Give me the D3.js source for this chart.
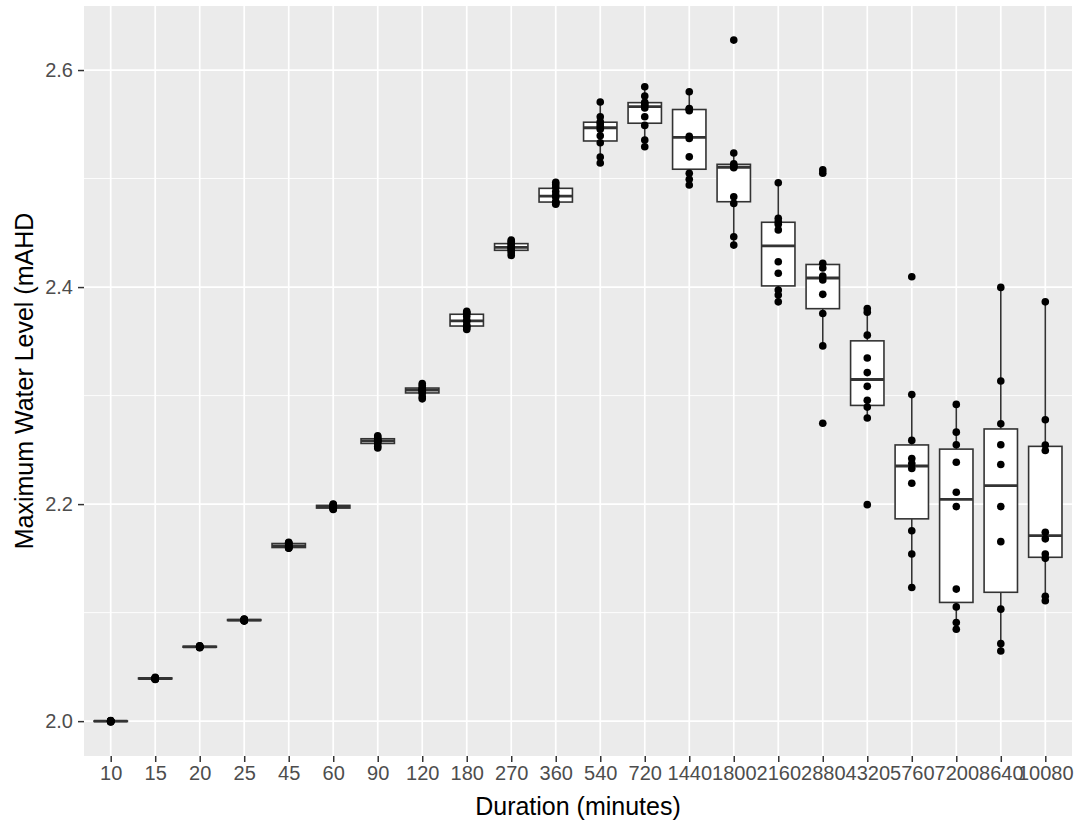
<!DOCTYPE html>
<html>
<head>
<meta charset="utf-8">
<script src="https://cdn.jsdelivr.net/npm/d3@7"></script>
<style>
    body { margin: 0; background: #fff; }
    text { font-family: "Liberation Sans", Arial, sans-serif; }
</style>
</head>
<body>
<svg id="chart" width="1078" height="824"></svg>
<script>
// durations on the x axis (minutes)
const durations = ["10", "15", "20", "25", "45", "60", "90", "120", "180", "270", "360",
    "540", "720", "1440", "1800", "2160", "2880", "4320", "5760", "7200", "8640", "10080"];

// max water level (mAHD) for each duration, one value per run
const lvl10 = [1.9993, 1.9995, 1.9997, 1.9998, 2.0000, 2.0000, 2.0001, 2.0002, 2.0004, 2.0006];
const lvl15 = [2.0384, 2.0387, 2.0389, 2.0391, 2.0392, 2.0394, 2.0396, 2.0398, 2.0400, 2.0403];
const lvl20 = [2.0676, 2.0679, 2.0681, 2.0683, 2.0684, 2.0686, 2.0688, 2.0690, 2.0692, 2.0695];
const lvl25 = [2.0922, 2.0925, 2.0927, 2.0929, 2.0930, 2.0932, 2.0934, 2.0936, 2.0938, 2.0941];
const lvl45 = [2.1594, 2.1596, 2.1598, 2.1606, 2.1612, 2.1616, 2.1628, 2.1640, 2.1644, 2.1648];
const lvl60 = [2.1950, 2.1955, 2.1962, 2.1968, 2.1972, 2.1978, 2.1984, 2.1990, 2.1995, 2.2000];
const lvl90 = [2.2518, 2.2530, 2.2555, 2.2572, 2.2580, 2.2586, 2.2594, 2.2605, 2.2618, 2.2630];
const lvl120 = [2.2970, 2.2990, 2.3020, 2.3038, 2.3046, 2.3054, 2.3062, 2.3072, 2.3092, 2.3112];
const lvl180 = [2.3610, 2.3625, 2.3638, 2.3650, 2.3684, 2.3694, 2.3730, 2.3756, 2.3765, 2.3776];
const lvl270 = [2.4292, 2.4315, 2.4335, 2.4350, 2.4362, 2.4370, 2.4390, 2.4404, 2.4420, 2.4433];
const lvl360 = [2.4763, 2.4775, 2.4782, 2.4788, 2.4830, 2.4848, 2.4880, 2.4920, 2.4945, 2.4965];
const lvl540 = [2.5143, 2.5198, 2.5330, 2.5395, 2.5455, 2.5481, 2.5505, 2.5524, 2.5570, 2.5705];
const lvl720 = [2.5293, 2.5355, 2.5490, 2.5570, 2.5650, 2.5674, 2.5690, 2.5703, 2.5760, 2.5846];
const lvl1440 = [2.4940, 2.4993, 2.5048, 2.5200, 2.5370, 2.5390, 2.5625, 2.5640, 2.5645, 2.5800];
const lvl1800 = [2.4387, 2.4464, 2.4771, 2.4833, 2.5100, 2.5108, 2.5120, 2.5135, 2.5235, 2.6276];
const lvl2160 = [2.3864, 2.3926, 2.3972, 2.4127, 2.4234, 2.4527, 2.4580, 2.4603, 2.4634, 2.4961];
const lvl2880 = [2.2745, 2.3458, 2.3757, 2.3933, 2.4065, 2.4102, 2.4176, 2.4219, 2.5050, 2.5080];
const lvl4320 = [2.1995, 2.2793, 2.2894, 2.2956, 2.3085, 2.3212, 2.3347, 2.3557, 2.3769, 2.3803];
const lvl5760 = [2.1231, 2.1540, 2.1755, 2.2192, 2.2328, 2.2374, 2.2420, 2.2587, 2.3009, 2.4095];
const lvl7200 = [2.0847, 2.0908, 2.1053, 2.1217, 2.1977, 2.2109, 2.2386, 2.2547, 2.2663, 2.2919];
const lvl8640 = [2.0647, 2.0714, 2.1032, 2.1654, 2.1977, 2.2365, 2.2547, 2.2741, 2.3134, 2.3997];
const lvl10080 = [2.1110, 2.1150, 2.1500, 2.1540, 2.1680, 2.1740, 2.2494, 2.2545, 2.2778, 2.3864];

const levels = [lvl10, lvl15, lvl20, lvl25, lvl45, lvl60, lvl90, lvl120, lvl180, lvl270, lvl360,
    lvl540, lvl720, lvl1440, lvl1800, lvl2160, lvl2880, lvl4320, lvl5760, lvl7200, lvl8640, lvl10080];

// y ticks
const yMajor = [2.0, 2.2, 2.4, 2.6];
const yMinor = [2.1, 2.3, 2.5];

const panel = { left: 84, right: 1072, top: 6, bottom: 756 };

const svg = d3.select('#chart');

// x scale: discrete, ggplot style 0.6 padding each side
const x = d3.scalePoint()
    .domain(durations)
    .range([panel.left, panel.right])
    .padding(0.6);

// y scale: data range expanded 5%
const all = levels.flat();
const [lo, hi] = d3.extent(all);
const pad = (hi - lo) * 0.05;
const y = d3.scaleLinear()
    .domain([lo - pad, hi + pad])
    .range([panel.bottom, panel.top]);

// panel background
svg.append('rect')
    .attr('x', panel.left)
    .attr('y', panel.top)
    .attr('width', panel.right - panel.left)
    .attr('height', panel.bottom - panel.top)
    .attr('fill', '#EBEBEB');

// grid lines
const grid = svg.append('g');
grid.selectAll('.minor')
    .data(yMinor)
    .enter().append('line')
    .attr('x1', panel.left).attr('x2', panel.right)
    .attr('y1', d => y(d)).attr('y2', d => y(d))
    .attr('stroke', '#fff').attr('stroke-width', 0.9);
grid.selectAll('.major')
    .data(yMajor)
    .enter().append('line')
    .attr('x1', panel.left).attr('x2', panel.right)
    .attr('y1', d => y(d)).attr('y2', d => y(d))
    .attr('stroke', '#fff').attr('stroke-width', 1.7);
grid.selectAll('.vert')
    .data(durations)
    .enter().append('line')
    .attr('x1', d => x(d)).attr('x2', d => x(d))
    .attr('y1', panel.top).attr('y2', panel.bottom)
    .attr('stroke', '#fff').attr('stroke-width', 1.7);

// box stats (R type 7 quantiles, 1.5 IQR whiskers)
const stats = levels.map((vals, i) => {
    const s = vals.slice().sort(d3.ascending);
    const q1 = d3.quantile(s, 0.25);
    const med = d3.quantile(s, 0.5);
    const q3 = d3.quantile(s, 0.75);
    const iqr = q3 - q1;
    const upper = d3.max(s.filter(v => v <= q3 + 1.5 * iqr));
    const lower = d3.min(s.filter(v => v >= q1 - 1.5 * iqr));
    return { key: durations[i], q1, med, q3, upper, lower };
});

const boxWidth = x.step() * 0.75;
const lineColor = '#333333';

const boxes = svg.selectAll('.box')
    .data(stats)
    .enter().append('g')
    .attr('transform', d => `translate(${x(d.key)},0)`);

boxes.append('line')
    .attr('y1', d => y(d.q3)).attr('y2', d => y(d.upper))
    .attr('stroke', lineColor).attr('stroke-width', 1.6);
boxes.append('line')
    .attr('y1', d => y(d.q1)).attr('y2', d => y(d.lower))
    .attr('stroke', lineColor).attr('stroke-width', 1.6);
boxes.append('rect')
    .attr('x', -boxWidth / 2)
    .attr('width', boxWidth)
    .attr('y', d => y(d.q3))
    .attr('height', d => Math.max(0, y(d.q1) - y(d.q3)))
    .attr('fill', '#fff')
    .attr('stroke', lineColor)
    .attr('stroke-width', 1.6);
boxes.append('line')
    .attr('x1', -boxWidth / 2).attr('x2', boxWidth / 2)
    .attr('y1', d => y(d.med)).attr('y2', d => y(d.med))
    .attr('stroke', lineColor).attr('stroke-width', 2.8);

// all runs as points
const points = levels.flatMap((vals, i) => vals.map(v => ({ key: durations[i], v })));
svg.append('g').selectAll('circle')
    .data(points)
    .enter().append('circle')
    .attr('cx', d => x(d.key))
    .attr('cy', d => y(d.v))
    .attr('r', 3.8)
    .attr('fill', '#000');

// axes
const xAxis = svg.append('g')
    .attr('transform', `translate(0,${panel.bottom})`)
    .call(d3.axisBottom(x).tickSizeOuter(0).tickSizeInner(6).tickPadding(4));
const yAxis = svg.append('g')
    .attr('transform', `translate(${panel.left},0)`)
    .call(d3.axisLeft(y).tickValues(yMajor).tickFormat(d3.format('.1f')).tickSizeOuter(0).tickSizeInner(6).tickPadding(5));

[xAxis, yAxis].forEach(ax => {
    ax.select('.domain').remove();
    ax.selectAll('.tick line').attr('stroke', lineColor).attr('stroke-width', 1.5);
    ax.selectAll('.tick text')
        .attr('fill', '#4D4D4D')
        .style('font-size', '20px')
        .style('font-family', '"Liberation Sans", Arial, sans-serif');
});

// axis titles
svg.append('text')
    .attr('x', (panel.left + panel.right) / 2)
    .attr('y', 815)
    .attr('text-anchor', 'middle')
    .style('font-size', '25px')
    .attr('fill', '#000')
    .text('Duration (minutes)');

svg.append('text')
    .attr('transform', `translate(33,${(panel.top + panel.bottom) / 2}) rotate(-90)`)
    .attr('text-anchor', 'middle')
    .style('font-size', '25px')
    .attr('fill', '#000')
    .text('Maximum Water Level (mAHD');
</script>
</body>
</html>
